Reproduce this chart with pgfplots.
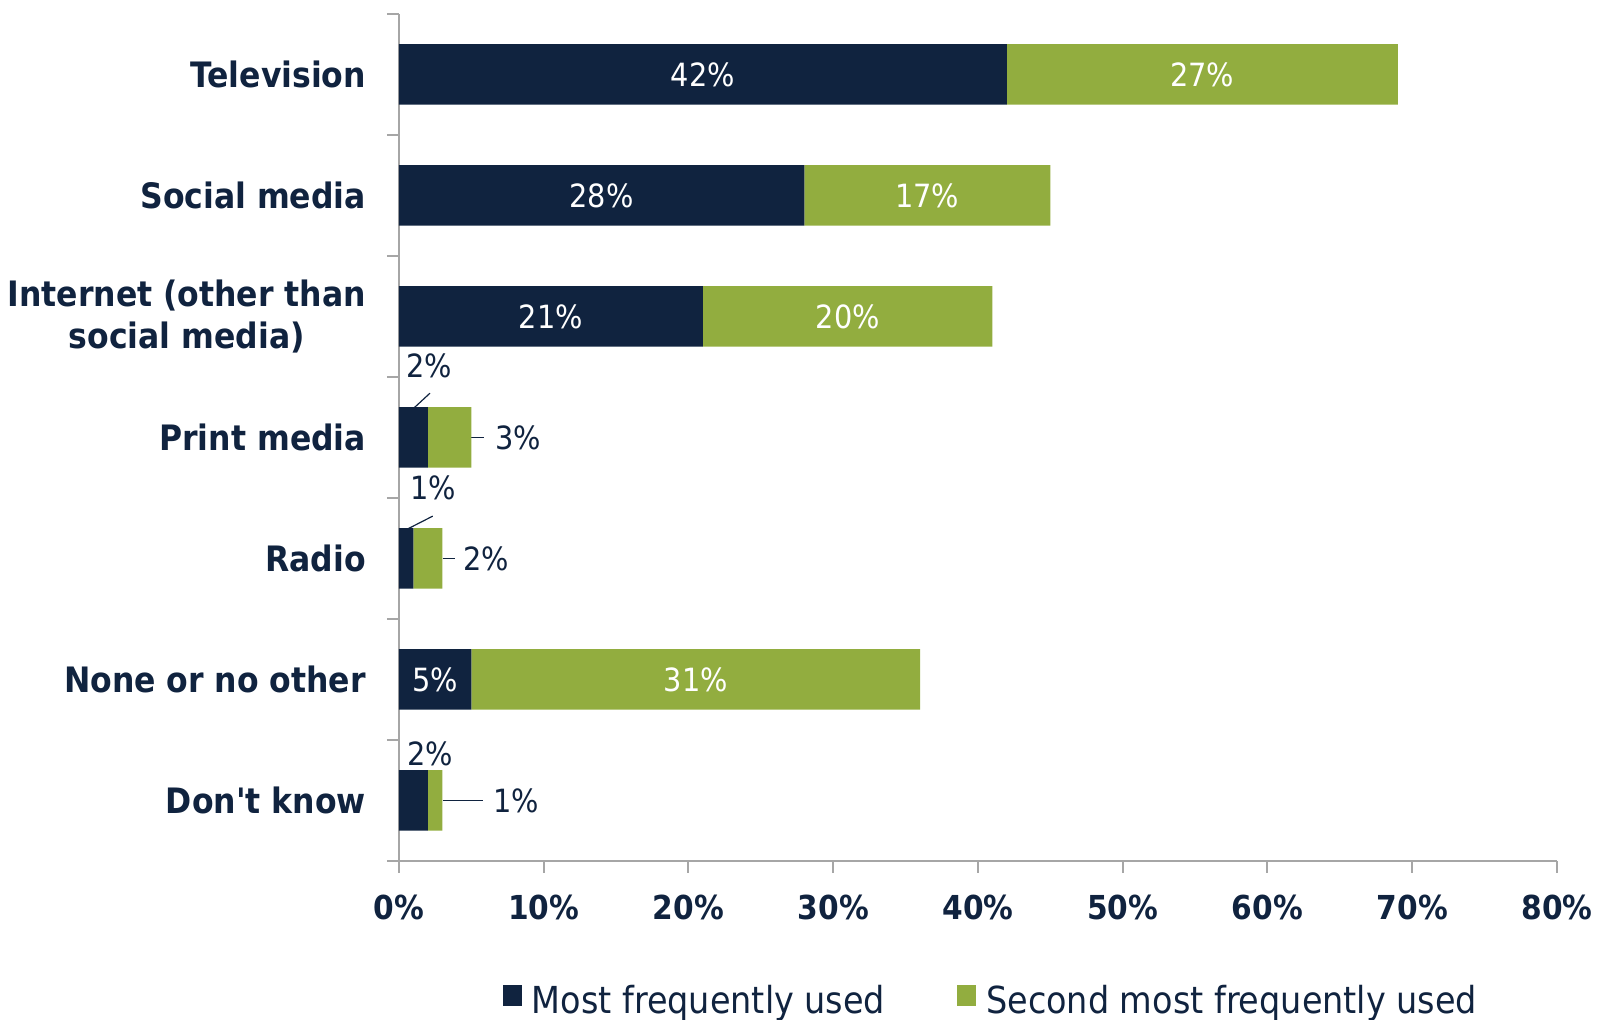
\documentclass[border=0pt]{standalone}
\usepackage{pgfplots}
\pgfplotsset{compat=1.18}
\usepackage{fontspec}
\setmainfont{DejaVu Sans Condensed}[Ligatures=TeXOff]
\definecolor{navy}{HTML}{10233F}
\definecolor{grn}{HTML}{92AD3F}
\definecolor{axgray}{HTML}{A6A6A6}
\begin{document}
\begin{tikzpicture}[font=\fontsize{16}{19}\selectfont, text=navy]
\begin{axis}[
  at={(0,0)}, anchor=south west,
  scale only axis, width=579pt, height=423.5pt,
  xbar stacked, bar width=30.25pt,
  xmin=0, xmax=80, ymin=-0.5, ymax=6.5,
  axis x line*=bottom, axis y line*=left,
  axis line style={axgray, line width=1pt, -},
  tick align=outside, major tick length=6pt,
  tick style={axgray, line width=1pt},
  xtick={0,10,...,80},
  xticklabel={\pgfmathprintnumber{\tick}\%},
  /pgf/number format/assume math mode=true,
  xticklabel style={font=\fontsize{16.5}{20}\selectfont\bfseries, text=navy, yshift=-7.5pt},
  ytick={-0.5,0.5,...,6.5}, yticklabels={},
  extra y ticks={0,1,2,3,4,5,6},
  extra y tick labels={Don't know, None or no other, Radio, Print media, {Internet (other than\\social media)}, Social media, Television},
  extra y tick style={tick style={draw=none}, yticklabel style={align=center, font=\fontsize{17.5}{21}\selectfont\bfseries, text=navy, xshift=-7pt}},
  legend style={at={(0.5,0)}, anchor=center, yshift=-70pt, xshift=7pt, draw=none, fill=none,
    legend columns=2, font=\fontsize{18.6}{21}\selectfont, text=navy,
    /tikz/every even column/.append style={column sep=34pt}},
  legend image code/.code={\fill[#1] (0pt,-2.5pt) rectangle (9.5pt,8pt); \path (12.5pt,0pt);},
]
\addplot[fill=navy, draw=none] coordinates {(2,0) (5,1) (1,2) (2,3) (21,4) (28,5) (42,6)};
\addlegendentry{Most frequently used}
\addplot[fill=grn, draw=none] coordinates {(1,0) (31,1) (2,2) (3,3) (20,4) (17,5) (27,6)};
\addlegendentry{Second most frequently used}
% anchors for inside labels
\coordinate (a1) at (axis cs:21,6);
\coordinate (a2) at (axis cs:55.5,6);
\coordinate (a3) at (axis cs:14,5);
\coordinate (a4) at (axis cs:36.5,5);
\coordinate (a5) at (axis cs:10.5,4);
\coordinate (a6) at (axis cs:31,4);
\coordinate (a7) at (axis cs:2.5,1);
\coordinate (a8) at (axis cs:20.5,1);
% print media
\node at (axis cs:2.07,3.59) {2\%};
\draw[navy, line width=0.6pt] (axis cs:1.0,3.24) -- (axis cs:2.14,3.366);
\draw[navy, line width=0.6pt] (axis cs:5.0,3) -- (axis cs:5.9,3);
\node[anchor=west, inner sep=0pt] at (axis cs:6.63,3) {3\%};
% radio
\node at (axis cs:2.35,2.58) {1\%};
\draw[navy, line width=0.6pt] (axis cs:0.53,2.24) -- (axis cs:2.33,2.35);
\draw[navy, line width=0.6pt] (axis cs:3.02,2) -- (axis cs:3.87,2);
\node[anchor=west, inner sep=0pt] at (axis cs:4.42,2) {2\%};
% don't know
\node at (axis cs:2.14,0.384) {2\%};
\draw[navy, line width=0.6pt] (axis cs:3.06,0) -- (axis cs:5.83,0);
\node[anchor=west, inner sep=0pt] at (axis cs:6.49,0) {1\%};
\end{axis}
\node[text=white] at (a1) {42\%};
\node[text=white] at (a2) {27\%};
\node[text=white] at (a3) {28\%};
\node[text=white] at (a4) {17\%};
\node[text=white] at (a5) {21\%};
\node[text=white] at (a6) {20\%};
\node[text=white] at (a7) {5\%};
\node[text=white] at (a8) {31\%};
\pgfresetboundingbox
\path[use as bounding box] (-199.5pt,-79.5pt) rectangle (599pt,430.5pt);
\end{tikzpicture}
\end{document}
